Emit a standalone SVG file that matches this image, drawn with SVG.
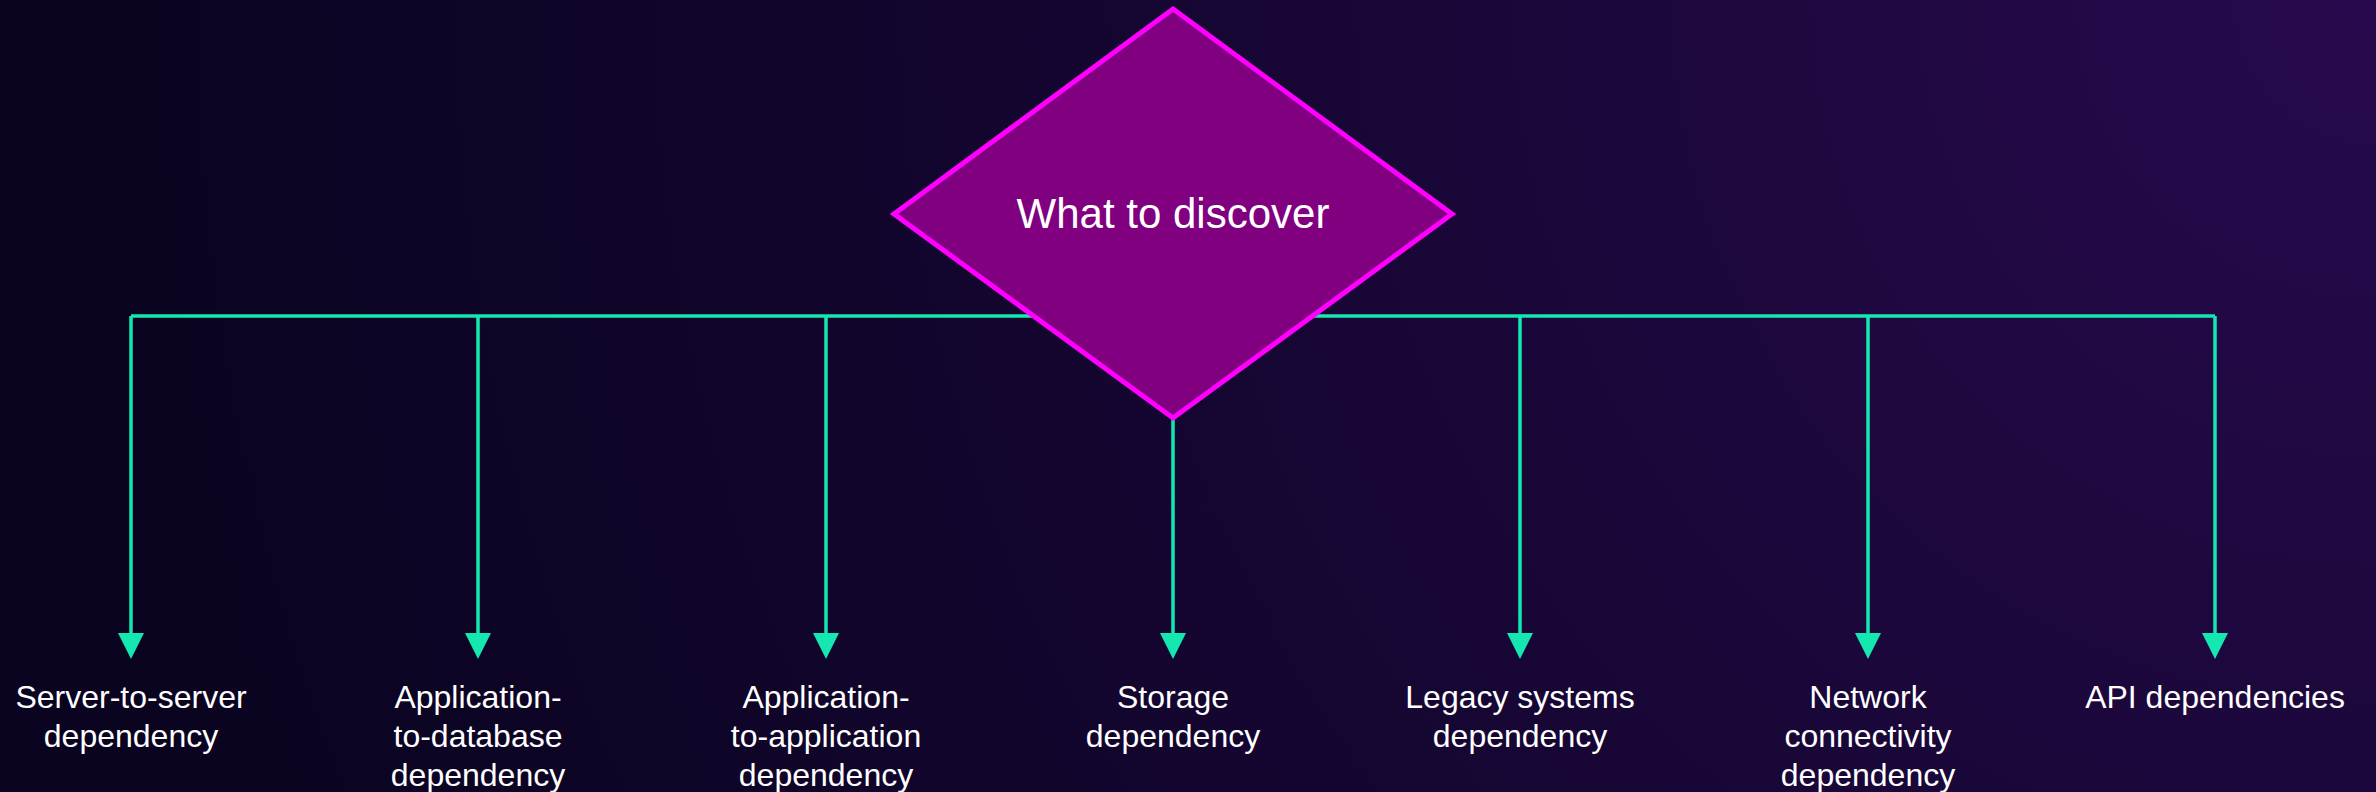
<svg xmlns="http://www.w3.org/2000/svg" width="2376" height="792" viewBox="0 0 2376 792">
<defs>
<radialGradient id="bg" cx="2376" cy="0" r="2300" gradientUnits="userSpaceOnUse">
<stop offset="0" stop-color="#270a4d"/>
<stop offset="0.55" stop-color="#150631"/>
<stop offset="1" stop-color="#0a0420"/>
</radialGradient>
<marker id="arr" markerWidth="26" markerHeight="26" refX="1" refY="13" orient="auto" markerUnits="userSpaceOnUse" viewBox="0 0 26 26">
<path d="M0,0 L26,13 L0,26 Z" fill="#14e8b0"/>
</marker>
<style>
.c{stroke:#14e8b0;stroke-width:3.5;fill:none}
.l{font-family:"Liberation Sans",Arial,sans-serif;font-size:32px;fill:#ffffff;text-anchor:middle}
.t{font-family:"Liberation Sans",Arial,sans-serif;font-size:42px;fill:#ffffff;text-anchor:middle}
</style>
</defs>
<rect width="2376" height="792" fill="url(#bg)"/>
<g id="connectors">
<path class="c" d="M131,316 H2215"/>
<path class="c" d="M131,316 V634" marker-end="url(#arr)"/>
<path class="c" d="M478,316 V634" marker-end="url(#arr)"/>
<path class="c" d="M826,316 V634" marker-end="url(#arr)"/>
<path class="c" d="M1173,410 V634" marker-end="url(#arr)"/>
<path class="c" d="M1520,316 V634" marker-end="url(#arr)"/>
<path class="c" d="M1868,316 V634" marker-end="url(#arr)"/>
<path class="c" d="M2215,316 V634" marker-end="url(#arr)"/>
</g>
<g id="decision">
<polygon points="1173,9 1452,214 1173,418 894,214" fill="#800080" stroke="#ff00ff" stroke-width="5"/>
<text class="t" x="1173" y="228">What to discover</text>
</g>
<g id="n1"><text class="l" x="131" y="708">Server-to-server</text><text class="l" x="131" y="747">dependency</text></g>
<g id="n2"><text class="l" x="478" y="708">Application-</text><text class="l" x="478" y="747">to-database</text><text class="l" x="478" y="786">dependency</text></g>
<g id="n3"><text class="l" x="826" y="708">Application-</text><text class="l" x="826" y="747">to-application</text><text class="l" x="826" y="786">dependency</text></g>
<g id="n4"><text class="l" x="1173" y="708">Storage</text><text class="l" x="1173" y="747">dependency</text></g>
<g id="n5"><text class="l" x="1520" y="708">Legacy systems</text><text class="l" x="1520" y="747">dependency</text></g>
<g id="n6"><text class="l" x="1868" y="708">Network</text><text class="l" x="1868" y="747">connectivity</text><text class="l" x="1868" y="786">dependency</text></g>
<g id="n7"><text class="l" x="2215" y="708">API dependencies</text></g>
</svg>
